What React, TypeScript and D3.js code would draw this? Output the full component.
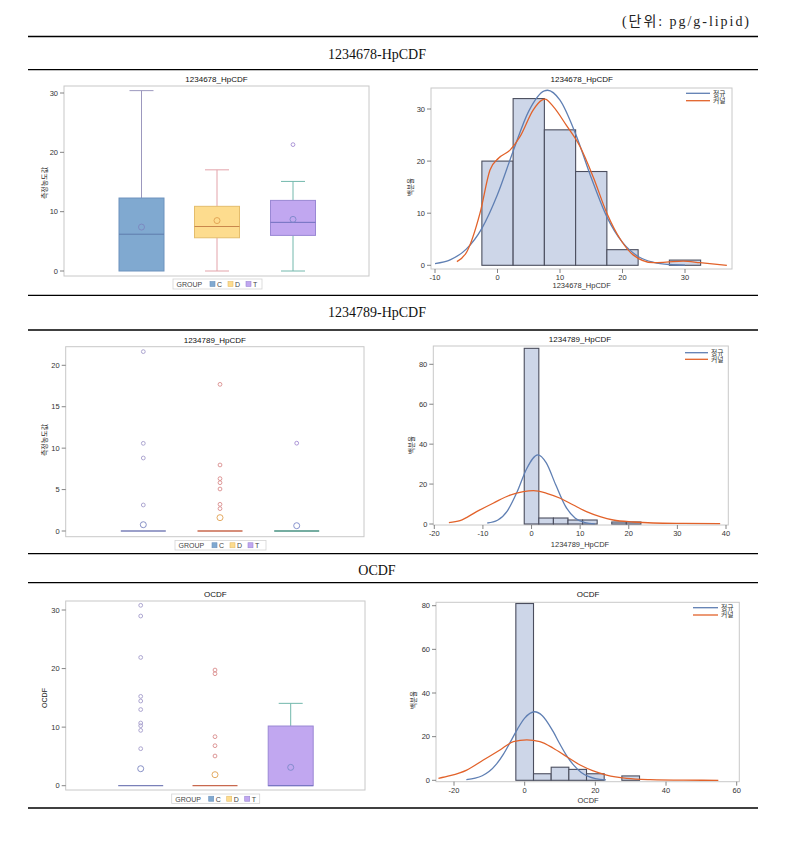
import React from "react";
import * as d3 from "d3";

// ---------- DATA ----------
const unitText = "(단위: pg/g-lipid)";
const sectionTitles = ["1234678-HpCDF", "1234789-HpCDF", "OCDF"];
const groups = ["C", "D", "T"];

// box plot stats per group: [min, q1, median, q3, max, mean]
const box1Stats = [
  [0, 0, 6.2, 12.3, 30.4, 7.4],
  [0, 5.6, 7.5, 10.9, 17.05, 8.5],
  [0, 6.0, 8.2, 11.9, 15.1, 8.7],
];
const box1Outliers = [[], [], [21.3]];

const box2Stats = [
  [0, 0, 0, 0, 0, 0.76],
  [0, 0, 0, 0, 0, 1.61],
  [0, 0, 0, 0, 0, 0.64],
];
const box2Outliers = [
  [21.65, 10.58, 8.81, 3.14],
  [17.7, 7.97, 6.32, 5.83, 5.07, 3.22, 2.7],
  [10.6],
];

const box3Stats = [
  [0, 0, 0, 0, 0, 2.9],
  [0, 0, 0, 0, 0, 1.88],
  [0, 0, 0, 10.19, 14.06, 3.13],
];
const box3Outliers = [
  [30.8, 28.97, 21.9, 15.25, 14.46, 13.0, 10.7, 10.24, 9.45, 6.32],
  [19.75, 19.12, 8.37, 6.83, 5.07],
  [],
];

// histograms: bin start, bin width, percents
const hist1Start = -2.5, hist1Width = 5;
const hist1Values = [20, 32, 26, 18, 3, 0, 1];
const hist2Start = -1.5, hist2Width = 3;
const hist2Values = [88, 3, 3, 2, 2, 0, 1, 1];
const hist3Start = -2.5, hist3Width = 5;
const hist3Values = [81, 3, 6, 5, 3, 0, 2];

const normal1 = [[-10,0.34],[-7.5,1.1],[-5,3.1],[-2.5,7.1],[0,13.6],[2.5,21.9],[5,29.6],[7.5,33.5],[8,33.6],[10,31.7],[12.5,25.2],[15,16.8],[17.5,9.3],[20,4.4],[22.5,1.7],[25,0.56],[27.5,0.15],[30,0.04]];
const kernel1 = [[-6.5,0.7],[-4.9,2.6],[-2.8,10],[-1.2,18.3],[0.2,20.6],[2,22.1],[3.6,24.7],[5.7,29.8],[7.1,31.7],[7.6,31.9],[8.9,30.5],[11,26.9],[13.2,22.8],[15.3,17],[17.5,10],[19.7,4.9],[21.7,2],[24.9,0.5],[27,0.6],[29.7,0.8],[32.4,0.5],[36.7,0]];
const normal2 = [[-9.1,0.5],[-7,1.9],[-5,6.5],[-3,15.9],[-1,27.7],[1.3,34.6],[3,30.7],[5,19.5],[7,8.8],[9,2.9],[11,0.7],[13,0.1]];
const kernel2 = [[-17,0.7],[-14.7,1.7],[-11.3,6.2],[-7.9,10.4],[-4.4,14.5],[-1.7,16.2],[0.4,16.7],[3.1,15.4],[5.9,12.9],[8.6,9.5],[11.3,6.2],[14.1,3.7],[16.8,2],[20.9,1],[25,0.5],[31.2,0.3],[38.8,0.2]];
const normal3 = [[-16.5,0.3],[-14,0.95],[-12,2.1],[-10,4.1],[-8,7.4],[-6,12],[-4,17.7],[-2,23.6],[0,28.5],[2.8,31.4],[5,29.6],[8,22.5],[10,16.5],[12,11],[14,6.7],[16,3.6],[18,1.8],[20,0.8],[23,0.2]];
const kernel3 = [[-24.4,0.9],[-21.1,2.1],[-16.4,4.7],[-11.7,9.3],[-7,13.9],[-3.2,17.7],[0.6,18.5],[4.3,17.7],[8.1,14.7],[11.9,10.8],[15.7,7],[19.4,4.3],[23.2,2.4],[28.9,0.9],[35.5,0.3],[44.9,0.05],[54.8,0]];

const boxTicks1 = [0, 10, 20, 30];
const boxTicks2 = [0, 5, 10, 15, 20];
const boxTicks3 = [0, 10, 20, 30];
const histXTicks1 = [-10, 0, 10, 20, 30];
const histYTicks1 = [0, 10, 20, 30];
const histXTicks2 = [-20, -10, 0, 10, 20, 30, 40];
const histYTicks2 = [0, 20, 40, 60, 80];
const histXTicks3 = [-20, 0, 20, 40, 60];
const histYTicks3 = [0, 20, 40, 60, 80];

const legendNames = ["정규", "커널"];

// ---------- STYLE ----------
const SANS = "'Liberation Sans', Arial, 'Noto Sans CJK KR', sans-serif";
const SERIF = "'Liberation Serif', 'Noto Sans CJK KR', serif";
const boxFill = ["#80A9D0", "#FDDC8E", "#C1A7F0"];
const boxStroke = ["#6C92BE", "#E4BD6C", "#9A88D4"];
const medianCol = ["#5E7CAC", "#C9874C", "#7070BE"];
const whiskerCol = ["#9C98BE", "#E3A3AA", "#72B8AC"];
const outlierCol = ["#A49CCB", "#D98C8C", "#A48CD2"];
const meanCol = ["#7C86C0", "#E0A050", "#7C88C8"];
const flatCol = ["#7A80B8", "#C8684E", "#479282"];
const frameCol = "#C8C8C8";
const tickCol = "#333";

type Frame = { x0: number; x1: number; y0: number; y1: number };

function BoxPanel(props: any) {
  const { frame, y0px, yRef, yRefPx, ticks, centers, stats, outliers, title, titleY, legend, ylabel, ylabelX, ylabelY } = props;
  const f: Frame = frame;
  const y = d3.scaleLinear().domain([0, yRef]).range([y0px, yRefPx]);
  const x = d3.scaleOrdinal<string, number>().domain(groups).range(centers);
  const bw = 45, cw = 24;
  const fs = 7.5;
  return (
    <g>
      <text x={(f.x0 + f.x1) / 2} y={titleY} textAnchor="middle" fontFamily={SANS} fontSize={8} fill="#111">{title}</text>
      <rect x={f.x0} y={f.y0} width={f.x1 - f.x0} height={f.y1 - f.y0} fill="white" stroke={frameCol} strokeWidth={1} />
      {ticks.map((t: number) => (
        <g key={t}>
          <line x1={f.x0 - 4} x2={f.x0} y1={y(t)} y2={y(t)} stroke="#666" strokeWidth={0.8} />
          <text x={f.x0 - 6} y={y(t) + 2.6} textAnchor="end" fontFamily={SANS} fontSize={fs} fill={tickCol}>{t}</text>
        </g>
      ))}
      <text transform={`translate(${ylabelX},${ylabelY}) rotate(-90)`} textAnchor="middle" fontFamily={SANS} fontSize={7} fill="#222">{ylabel}</text>
      {groups.map((g, i) => {
        const [mn, q1, md, q3, mx, mean] = stats[i];
        const cx = x(g);
        const flat = q3 - q1 < 0.01;
        return (
          <g key={g}>
            {mx > q3 && <line x1={cx} x2={cx} y1={y(q3)} y2={y(mx)} stroke={whiskerCol[i]} strokeWidth={1} />}
            {mx > q3 && <line x1={cx - cw / 2} x2={cx + cw / 2} y1={y(mx)} y2={y(mx)} stroke={whiskerCol[i]} strokeWidth={1} />}
            {q1 > mn && <line x1={cx} x2={cx} y1={y(q1)} y2={y(mn)} stroke={whiskerCol[i]} strokeWidth={1} />}
            {q1 > mn && <line x1={cx - cw / 2} x2={cx + cw / 2} y1={y(mn)} y2={y(mn)} stroke={whiskerCol[i]} strokeWidth={1} />}
            {!flat && <rect x={cx - bw / 2} y={y(q3)} width={bw} height={y(q1) - y(q3)} fill={boxFill[i]} stroke={boxStroke[i]} strokeWidth={1} />}
            {!flat && md > q1 && <line x1={cx - bw / 2} x2={cx + bw / 2} y1={y(md)} y2={y(md)} stroke={medianCol[i]} strokeWidth={1} />}
            {flat && <line x1={cx - bw / 2} x2={cx + bw / 2} y1={y(md)} y2={y(md)} stroke={flatCol[i]} strokeWidth={1.3} />}
            {!flat && md <= q1 && <line x1={cx - bw / 2} x2={cx + bw / 2} y1={y(md)} y2={y(md)} stroke={medianCol[i]} strokeWidth={1} />}
            {(outliers[i] as number[]).map((o, k) => (
              <circle key={k} cx={cx} cy={y(o)} r={1.9} fill="none" stroke={outlierCol[i]} strokeWidth={0.9} />
            ))}
            <circle cx={cx} cy={y(mean)} r={3} fill="none" stroke={meanCol[i]} strokeWidth={0.9} />
          </g>
        );
      })}
      <g>
        <rect x={legend.x} y={legend.y} width={legend.w} height={legend.h} fill="white" stroke="#D4D4D4" strokeWidth={0.8} />
        <text x={legend.x + 3.5} y={legend.y + legend.h - 2} fontFamily={SANS} fontSize={7} fill="#444">GROUP</text>
        {groups.map((g, i) => (
          <g key={g}>
            <rect x={legend.x + 37 + i * 18} y={legend.y + legend.h / 2 - 2.5} width={5} height={5} fill={boxFill[i]} stroke={boxStroke[i]} strokeWidth={0.6} />
            <text x={legend.x + 44 + i * 18} y={legend.y + legend.h - 2} fontFamily={SANS} fontSize={7} fill="#444">{g}</text>
          </g>
        ))}
      </g>
    </g>
  );
}

function HistPanel(props: any) {
  const { frame, xA, xApx, xB, xBpx, y0px, yRef, yRefPx, xTicks, yTicks, start, width, values, normal, kernel, title, titleY, titleX, xlabelY, ylabelX, ylabelY, leg } = props;
  const f: Frame = frame;
  const x = d3.scaleLinear().domain([xA, xB]).range([xApx, xBpx]);
  const y = d3.scaleLinear().domain([0, yRef]).range([y0px, yRefPx]);
  const line = d3.line<number[]>().x((d) => x(d[0])).y((d) => y(d[1])).curve(d3.curveMonotoneX);
  const fs = 7.5;
  return (
    <g>
      <text x={titleX} y={titleY} textAnchor="middle" fontFamily={SANS} fontSize={8} fill="#111">{title}</text>
      <rect x={f.x0} y={f.y0} width={f.x1 - f.x0} height={f.y1 - f.y0} fill="white" stroke={frameCol} strokeWidth={1} />
      {(values as number[]).map((v, i) =>
        v > 0 ? (
          <rect key={i} x={x(start + i * width)} y={y(v)} width={x(start + (i + 1) * width) - x(start + i * width)} height={y(0) - y(v)} fill="#CDD6E8" stroke="#4B4E5E" strokeWidth={1.1} />
        ) : null
      )}
      <path d={line(normal) || ""} fill="none" stroke="#5F7FB3" strokeWidth={1.3} />
      <path d={line(kernel) || ""} fill="none" stroke="#E2622A" strokeWidth={1.3} />
      {yTicks.map((t: number) => (
        <g key={t}>
          <line x1={f.x0 - 4} x2={f.x0} y1={y(t)} y2={y(t)} stroke="#666" strokeWidth={0.8} />
          <text x={f.x0 - 6} y={y(t) + 2.6} textAnchor="end" fontFamily={SANS} fontSize={fs} fill={tickCol}>{t}</text>
        </g>
      ))}
      {xTicks.map((t: number) => (
        <g key={t}>
          <line x1={x(t)} x2={x(t)} y1={f.y1} y2={f.y1 + 4} stroke="#666" strokeWidth={0.8} />
          <text x={x(t)} y={f.y1 + 11} textAnchor="middle" fontFamily={SANS} fontSize={fs} fill={tickCol}>{t}</text>
        </g>
      ))}
      <text x={titleX} y={xlabelY} textAnchor="middle" fontFamily={SANS} fontSize={7.5} fill="#333">{title}</text>
      <text transform={`translate(${ylabelX},${ylabelY}) rotate(-90)`} textAnchor="middle" fontFamily={SANS} fontSize={6.5} fill="#222">백분율</text>
      {legendNames.map((n, i) => (
        <g key={n}>
          <line x1={leg.x0} x2={leg.x1} y1={leg.ys[i]} y2={leg.ys[i]} stroke={i === 0 ? "#5F7FB3" : "#E2622A"} strokeWidth={1.3} />
          <text x={leg.x1 + 3} y={leg.ys[i] + 2.4} fontFamily={SANS} fontSize={6.8} fill="#333">{n}</text>
        </g>
      ))}
    </g>
  );
}

export default function App() {
  const rules = [36.5, 69.7, 295.3, 330, 553.7, 582.7, 808];
  const titleYs = [58.5, 317, 574.5];
  return (
    <svg width={811} height={849} style={{ position: "absolute", left: 0, top: 0, background: "white" }}>
      <rect x={0} y={0} width={811} height={849} fill="white" />
      <text x={749} y={26} textAnchor="end" fontFamily={SERIF} fontSize={14} fill="#222" textLength={127} lengthAdjust="spacing">{unitText}</text>
      {rules.map((r, i) => (
        <line key={i} x1={28} x2={758} y1={r} y2={r} stroke="#000" strokeWidth={1.3} />
      ))}
      {sectionTitles.map((t, i) => (
        <text key={t} x={377} y={titleYs[i]} textAnchor="middle" fontFamily={SERIF} fontSize={14} fill="#111">{t}</text>
      ))}

      <BoxPanel frame={{ x0: 64, x1: 369, y0: 86, y1: 276 }} y0px={271} yRef={30} yRefPx={93} ticks={boxTicks1}
        centers={[141.5, 217, 293]} stats={box1Stats} outliers={box1Outliers} title="1234678_HpCDF" titleY={81.5}
        legend={{ x: 173, y: 279, w: 89, h: 10 }} ylabel="측정농도값" ylabelX={47} ylabelY={183} />
      <BoxPanel frame={{ x0: 65.7, x1: 364, y0: 346.7, y1: 536.7 }} y0px={531} yRef={20} yRefPx={365.3} ticks={boxTicks2}
        centers={[143.3, 220, 296.7]} stats={box2Stats} outliers={box2Outliers} title="1234789_HpCDF" titleY={343}
        legend={{ x: 175, y: 540.5, w: 91, h: 9.5 }} ylabel="측정농도값" ylabelX={47} ylabelY={440} />
      <BoxPanel frame={{ x0: 65.7, x1: 365, y0: 601, y1: 790 }} y0px={785.7} yRef={30} yRefPx={610} ticks={boxTicks3}
        centers={[140.7, 215, 290.7]} stats={box3Stats} outliers={box3Outliers} title="OCDF" titleY={597}
        legend={{ x: 171.7, y: 794, w: 88, h: 9.5 }} ylabel="OCDF" ylabelX={47} ylabelY={698} />

      <HistPanel frame={{ x0: 431, x1: 732, y0: 88, y1: 269 }} xA={-10} xApx={435} xB={30} xBpx={685} y0px={265.3} yRef={30} yRefPx={109}
        xTicks={histXTicks1} yTicks={histYTicks1} start={hist1Start} width={hist1Width} values={hist1Values} normal={normal1} kernel={kernel1}
        title="1234678_HpCDF" titleY={81.5} titleX={581.7} xlabelY={288} ylabelX={413} ylabelY={187}
        leg={{ x0: 686, x1: 710, ys: [93.3, 100.7] }} />
      <HistPanel frame={{ x0: 433.3, x1: 728.3, y0: 346, y1: 525 }} xA={-20} xApx={434.3} xB={40} xBpx={726} y0px={524} yRef={80} yRefPx={364.3}
        xTicks={histXTicks2} yTicks={histYTicks2} start={hist2Start} width={hist2Width} values={hist2Values} normal={normal2} kernel={kernel2}
        title="1234789_HpCDF" titleY={342} titleX={580} xlabelY={546.5} ylabelX={414} ylabelY={445}
        leg={{ x0: 685, x1: 708, ys: [352.7, 359.3] }} />
      <HistPanel frame={{ x0: 436, x1: 739.3, y0: 602.3, y1: 781.7 }} xA={-20} xApx={454} xB={60} xBpx={736.7} y0px={780.3} yRef={80} yRefPx={605.7}
        xTicks={histXTicks3} yTicks={histYTicks3} start={hist3Start} width={hist3Width} values={hist3Values} normal={normal3} kernel={kernel3}
        title="OCDF" titleY={597} titleX={588} xlabelY={803} ylabelX={416} ylabelY={700}
        leg={{ x0: 693, x1: 718, ys: [607.7, 615] }} />
    </svg>
  );
}
